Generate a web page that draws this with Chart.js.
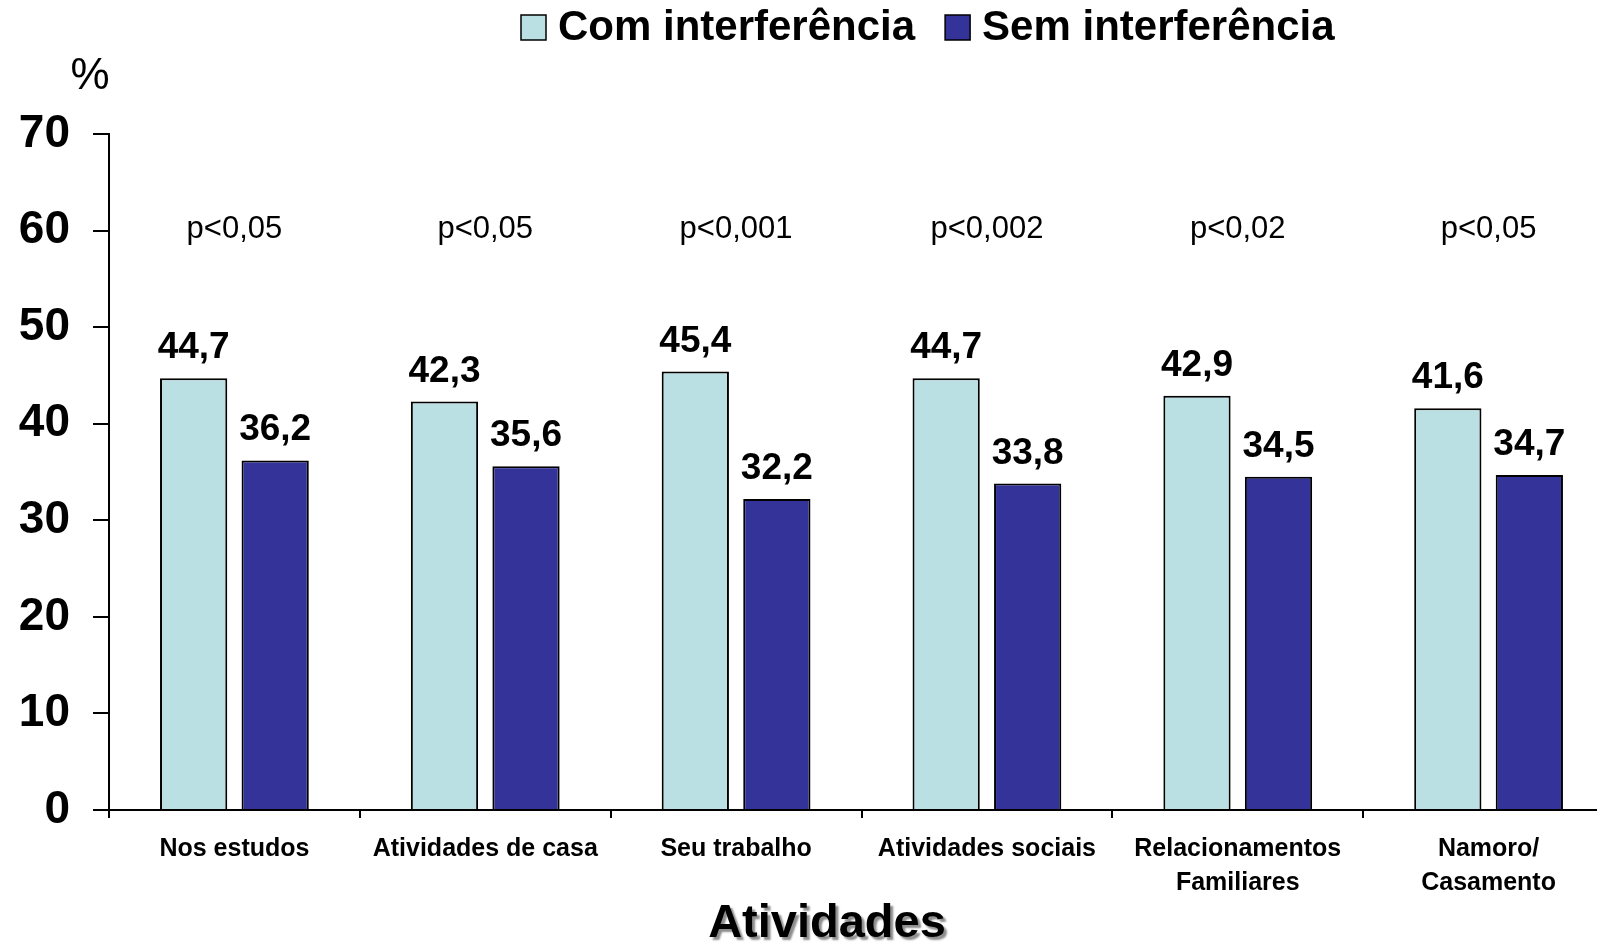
<!DOCTYPE html>
<html lang="pt">
<head>
<meta charset="utf-8">
<title>Atividades - interferência</title>
<script src="https://cdn.jsdelivr.net/npm/chart.js@4.4.1/dist/chart.umd.min.js"></script>
<style>
    html, body { margin: 0; padding: 0; background: #fff; overflow: hidden; }
    #wrap { width: 1614px; height: 944px; position: relative; }
</style>
</head>
<body>
<div id="wrap"><canvas id="grafico"></canvas></div>
<script>
// Dados do gráfico
const categorias = ['Nos estudos', 'Atividades de casa', 'Seu trabalho', 'Atividades sociais',
    ['Relacionamentos', 'Familiares'], ['Namoro/', 'Casamento']];
const comInterferencia = [44.7, 42.3, 45.4, 44.7, 42.9, 41.6];
const semInterferencia = [36.2, 35.6, 32.2, 33.8, 34.5, 34.7];
const pValores = ['p<0,05', 'p<0,05', 'p<0,001', 'p<0,002', 'p<0,02', 'p<0,05'];
const eixoY = { min: 0, max: 70, passo: 10 };

const FONTE = "'Liberation Sans', Arial, Helvetica, sans-serif";
const COR_CLARA = '#BBE0E3';
const COR_ESCURA = '#333399';

Chart.defaults.font.family = FONTE;
Chart.defaults.color = '#000';

// Rótulos de valores, p-valores, legenda, "%" e título do eixo X
const extras = {
    id: 'extras',
    afterDatasetsDraw(chart) {
        const ctx = chart.ctx;
        ctx.save();
        ctx.fillStyle = '#000';
        ctx.textAlign = 'center';
        ctx.textBaseline = 'alphabetic';
        ctx.font = 'bold 37px ' + FONTE;
        chart.data.datasets.forEach((ds, i) => {
            chart.getDatasetMeta(i).data.forEach((bar, j) => {
                ctx.fillText(ds.data[j].toFixed(1).replace('.', ','), bar.x, bar.y - 20);
            });
        });

        // p-valores
        ctx.font = '31px ' + FONTE;
        ctx.textBaseline = 'middle';
        const yP = chart.scales.y.getPixelForValue(60.1);
        pValores.forEach((p, j) => {
            ctx.fillText(p, chart.scales.x.getPixelForValue(j), yP);
        });
        ctx.restore();
    },
    afterDraw(chart) {
        const ctx = chart.ctx;
        ctx.save();
        ctx.fillStyle = '#000';

        // "%"
        ctx.font = '44px ' + FONTE;
        ctx.textAlign = 'center';
        ctx.textBaseline = 'middle';
        ctx.fillText('%', 90, 77);

        // legenda
        ctx.font = 'bold 42px ' + FONTE;
        ctx.textAlign = 'left';
        let x = 521;
        const yL = 27;
        chart.data.datasets.forEach(ds => {
            ctx.fillStyle = ds.backgroundColor;
            ctx.fillRect(x, yL - 12, 25, 25);
            ctx.strokeStyle = '#000';
            ctx.lineWidth = 1.5;
            ctx.strokeRect(x, yL - 12, 25, 25);
            x += 37;
            ctx.fillStyle = '#000';
            ctx.fillText(ds.label, x, yL + 1);
            x += ctx.measureText(ds.label).width + 30;
        });

        // título do eixo X com sombra
        ctx.font = 'bold 47px ' + FONTE;
        ctx.textAlign = 'center';
        ctx.shadowColor = 'rgba(0,0,0,0.45)';
        ctx.shadowOffsetX = 3;
        ctx.shadowOffsetY = 3;
        ctx.shadowBlur = 2;
        ctx.fillText('Atividades', 827, 924);
        ctx.restore();
    }
};

new Chart(document.getElementById('grafico'), {
    type: 'bar',
    data: {
        labels: categorias,
        datasets: [
            {
                label: 'Com interferência',
                data: comInterferencia,
                backgroundColor: COR_CLARA,
                borderColor: '#000',
                borderWidth: 2,
                borderSkipped: 'bottom',
                categoryPercentage: 0.65,
                barPercentage: 0.825
            },
            {
                label: 'Sem interferência',
                data: semInterferencia,
                backgroundColor: COR_ESCURA,
                borderColor: '#000',
                borderWidth: 2,
                borderSkipped: 'bottom',
                categoryPercentage: 0.65,
                barPercentage: 0.825
            }
        ]
    },
    options: {
        responsive: true,
        maintainAspectRatio: false,
        animation: false,
        layout: { padding: { top: 134, left: 0, right: 0, bottom: 0 } },
        plugins: {
            legend: { display: false },
            tooltip: { enabled: false }
        },
        scales: {
            x: {
                afterFit(scale) { scale.height = 134; },
                grid: {
                    offset: true,
                    drawOnChartArea: false,
                    drawTicks: true,
                    tickLength: 8,
                    color: '#000',
                    lineWidth: 2
                },
                border: { display: true, color: '#000', width: 2 },
                ticks: {
                    maxRotation: 0,
                    autoSkip: false,
                    padding: 14,
                    font: { size: 25, weight: 'bold', lineHeight: 1.35 },
                    color: '#000'
                }
            },
            y: {
                min: eixoY.min,
                max: eixoY.max,
                afterFit(scale) { scale.width = 109; },
                grid: {
                    drawOnChartArea: false,
                    drawTicks: true,
                    tickLength: 16,
                    color: '#000',
                    lineWidth: 2
                },
                border: { display: true, color: '#000', width: 2 },
                ticks: {
                    stepSize: eixoY.passo,
                    padding: 23,
                    font: { size: 46, weight: 'bold' },
                    color: '#000'
                }
            }
        }
    },
    plugins: [extras]
});
</script>
</body>
</html>
